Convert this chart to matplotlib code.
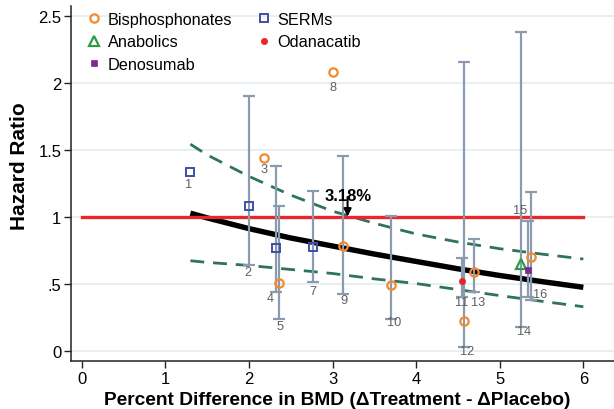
import numpy as np
import matplotlib
matplotlib.use("Agg")
import matplotlib.pyplot as plt
from matplotlib.lines import Line2D

plt.rcParams['font.family'] = ['Liberation Sans', 'DejaVu Sans']

# ---------------- data ----------------
study = ["1", "2", "3", "4", "5", "7", "8", "9", "10", "11", "12", "13", "14", "15", "16"]
bmd_diff = [1.30, 2.00, 2.18, 2.32, 2.36, 2.77, 3.01, 3.12, 3.70, 4.55, 4.57, 4.69, 5.26, 5.34, 5.38]
hazard = [1.33, 1.08, 1.44, 0.765, 0.504, 0.775, 2.08, 0.78, 0.489, 0.52, 0.222, 0.588, 0.646, 0.603, 0.696]
ci_low = [np.nan, 0.638, np.nan, 0.434, 0.235, 0.514, np.nan, 0.42, 0.235, 0.40, 0.026, 0.434, 0.173, 0.40, 0.38]
ci_high = [np.nan, 1.90, np.nan, 1.375, 1.08, 1.19, np.nan, 1.45, 1.006, 0.688, 2.155, 0.832, 2.38, 0.97, 1.185]
drug_class = ["SERMs", "SERMs", "Bisphosphonates", "SERMs", "Bisphosphonates", "SERMs",
              "Bisphosphonates", "Bisphosphonates", "Bisphosphonates", "Odanacatib",
              "Bisphosphonates", "Bisphosphonates", "Anabolics", "Denosumab", "Bisphosphonates"]

fit_x = [1.3, 1.5, 2.0, 2.5, 3.0, 3.5, 4.0, 4.5, 5.0, 5.5, 6.0]
fit_hr = [1.025, 0.99, 0.91, 0.84, 0.78, 0.72, 0.665, 0.61, 0.56, 0.515, 0.472]
fit_upper = [1.54, 1.46, 1.30, 1.16, 1.04, 0.95, 0.87, 0.81, 0.76, 0.72, 0.683]
fit_lower = [0.67, 0.658, 0.635, 0.605, 0.575, 0.535, 0.50, 0.455, 0.41, 0.368, 0.327]

threshold_x = 3.18
threshold_label = "3.18%"

x_ticks = [0, 1, 2, 3, 4, 5, 6]
y_ticks = [0, 0.5, 1, 1.5, 2, 2.5]
y_tick_labels = ["0", ".5", "1", "1.5", "2", "2.5"]

legend_order = ["Bisphosphonates", "Anabolics", "Denosumab", "SERMs", "Odanacatib"]

# ---------------- styles ----------------
styles = {
    "Bisphosphonates": dict(marker="o", mfc="none", mec="#f28a2e", ms=6.0, mew=1.6),
    "SERMs": dict(marker="s", mfc="none", mec="#3f4fa6", ms=5.8, mew=1.4),
    "Anabolics": dict(marker="^", mfc="none", mec="#2e9a47", ms=7.0, mew=1.6),
    "Odanacatib": dict(marker="o", mfc="#e5262b", mec="#e5262b", ms=4.5, mew=0.5),
    "Denosumab": dict(marker="s", mfc="#7d2a8c", mec="#7d2a8c", ms=4.5, mew=0.5),
}
# label anchor & offsets (pixels: dx right, dy down)
label_anchor = {"1": "pt", "3": "pt", "8": "pt", "15": "hi"}
label_offset = {"1": (-2, 12), "2": (-1, 7), "3": (0, 11), "4": (-5, 6), "5": (1, 7),
                "7": (0, 9), "8": (0, 15), "9": (1, 6), "10": (3, 3), "11": (0, 5.5),
                "12": (3, 4), "13": (4, 10), "14": (3, 4), "15": (-8, -11), "16": (8.5, -5.5)}

W, H = 614, 410
fig = plt.figure(figsize=(W / 100, H / 100), dpi=100)
ax = fig.add_axes([71 / W, 48 / H, 543 / W, 355 / H])

ax.set_xlim(-0.128, 6.367)
ax.set_ylim(-0.078, 2.571)

for yv in y_ticks:
    ax.axhline(yv, color="#e7eff1", lw=1.4, zorder=0)

# fit and CI
ax.plot(fit_x, fit_upper, color="#2f735c", lw=2.0, ls=(0, (5, 3.2)), zorder=2)
ax.plot(fit_x, fit_lower, color="#2f735c", lw=2.0, ls=(0, (5, 3.2)), zorder=2)
ax.plot(fit_x, fit_hr, color="black", lw=3.9, zorder=3, solid_capstyle="butt")
ax.plot([0, 6], [1, 1], color="#e8262b", lw=2.4, zorder=3)

# error bars
bx = np.array(bmd_diff)
lo = np.array(ci_low)
hi = np.array(ci_high)
m = ~np.isnan(lo)
ax.errorbar(bx[m], (lo[m] + hi[m]) / 2, yerr=(hi[m] - lo[m]) / 2, fmt="none",
            ecolor="#8a9bb0", elinewidth=1.6, capsize=4, capthick=1.6, zorder=4)

# points
for name, st in styles.items():
    idx = [i for i, g in enumerate(drug_class) if g == name]
    ax.plot(bx[idx], np.array(hazard)[idx], ls="none", zorder=6, **st)

# study labels
for i, s in enumerate(study):
    anc = label_anchor.get(s, "lo")
    ay = hazard[i] if anc == "pt" else (ci_high[i] if anc == "hi" else ci_low[i])
    dx, dy = label_offset[s]
    ax.annotate(s, (bmd_diff[i], ay), xytext=(dx * 0.72, -dy * 0.72),
                textcoords="offset points", ha="center", va="center",
                fontsize=9.2, color="#5f5f5f", zorder=7)

# threshold annotation
ax.annotate("", xy=(threshold_x, 1.0), xytext=(threshold_x, 1.145),
            arrowprops=dict(arrowstyle="-|>", color="black", lw=1.5,
                            mutation_scale=11, shrinkA=0, shrinkB=0), zorder=8)
ax.text(threshold_x + 0.01, 1.157, threshold_label, ha="center", va="center",
        fontsize=12, fontweight="bold", color="black", zorder=9)

# axes styling
for sp in ["top", "right"]:
    ax.spines[sp].set_visible(False)
for sp in ["left", "bottom"]:
    ax.spines[sp].set_linewidth(1.1)
    ax.spines[sp].set_color("#222222")
ax.set_xticks(x_ticks)
ax.set_yticks(y_ticks)
ax.set_yticklabels(y_tick_labels)
ax.tick_params(axis="both", labelsize=12, length=5, width=1.0, pad=2, color="#222222")

fig.text(20 / W, 1 - 166 / H, "Hazard Ratio", rotation=90, ha="center", va="center",
         fontsize=15, fontweight="bold")
fig.text(337 / W, 1 - 401 / H, "Percent Difference in BMD (\u0394Treatment - \u0394Placebo)",
         ha="center", va="center", fontsize=13.8, fontweight="bold")

handles = [Line2D([], [], ls="none", **styles[n]) for n in legend_order]
ax.legend(handles, legend_order, loc="upper left", bbox_to_anchor=(0.01, 1.015), ncol=2,
          frameon=False, fontsize=11.7, handlelength=0.8, handletextpad=0.42,
          labelspacing=0.45, columnspacing=1.55, borderpad=0.2)

fig.savefig("out.png", dpi=100)
